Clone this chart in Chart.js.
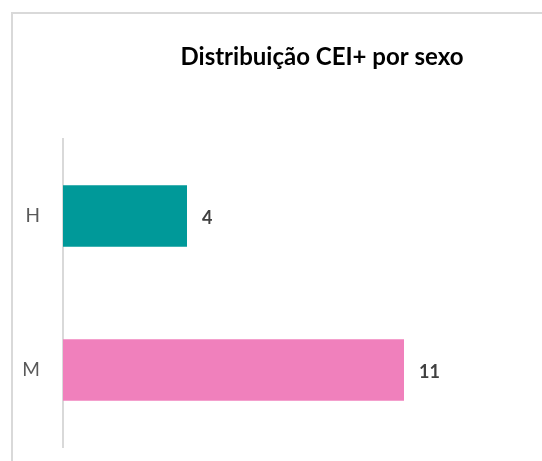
<!doctype html>
<html lang="pt">
<head>
  <meta charset="utf-8">
  <title>Distribuição CEI+ por sexo</title>
  <script src="https://cdn.jsdelivr.net/npm/chart.js@4.4.1/dist/chart.umd.min.js"></script>
  <style>
    html, body { margin: 0; padding: 0; background: #fff; overflow: hidden; }
    canvas { display: block; }
  </style>
</head>
<body>
  <canvas id="sexChart" width="542" height="461"></canvas>

  <script>
    // data
    var categories = ['H', 'M'];
    var counts = [4, 11];
    var barColors = ['#009999', '#F080BC'];
    var chartTitle = 'Distribuição CEI+ por sexo';

    var baseFont = 'Lato, "Open Sans", sans-serif';

    // light gray frame (top and left edges visible) plus the title
    var frameAndTitle = {
      id: 'frameAndTitle',
      beforeDraw: function (chart) {
        var ctx = chart.ctx;
        ctx.save();
        ctx.strokeStyle = '#d9d9d9';
        ctx.lineWidth = 2;
        ctx.beginPath();
        ctx.moveTo(12, chart.height);
        ctx.lineTo(12, 13);
        ctx.lineTo(chart.width, 13);
        ctx.stroke();

        ctx.fillStyle = '#000';
        ctx.font = 'bold 24px ' + baseFont;
        ctx.textAlign = 'center';
        ctx.textBaseline = 'middle';
        ctx.fillText(chartTitle, 322, 57);
        ctx.restore();
      }
    };

    // value labels to the right of each bar
    var valueLabels = {
      id: 'valueLabels',
      afterDatasetsDraw: function (chart) {
        var ctx = chart.ctx;
        var meta = chart.getDatasetMeta(0);
        ctx.save();
        ctx.fillStyle = '#404040';
        ctx.font = 'bold 18px ' + baseFont;
        ctx.textAlign = 'left';
        ctx.textBaseline = 'middle';
        meta.data.forEach(function (bar, i) {
          ctx.fillText(String(counts[i]), bar.x + 15, bar.y + 2);
        });
        ctx.restore();
      }
    };

    var ctx = document.getElementById('sexChart').getContext('2d');
    new Chart(ctx, {
      type: 'bar',
      data: {
        labels: categories,
        datasets: [{
          data: counts,
          backgroundColor: barColors,
          barPercentage: 0.8,
          categoryPercentage: 0.5
        }]
      },
      options: {
        indexAxis: 'y',
        responsive: false,
        animation: false,
        layout: { padding: { top: 139, bottom: 14, left: 0, right: 14 } },
        plugins: {
          legend: { display: false },
          title: { display: false },
          tooltip: { enabled: false }
        },
        scales: {
          x: {
            display: false,
            min: 0,
            max: 15,
            grid: { display: false, drawTicks: false },
            border: { display: false },
            ticks: { display: false }
          },
          y: {
            grid: { display: false, drawTicks: false },
            border: { display: true, color: '#d9d9d9', width: 2 },
            ticks: {
              color: '#595959',
              padding: 23,
              font: { family: baseFont, size: 19 }
            },
            afterFit: function (scale) {
              // fixed axis width; no extra label room above/below the plot
              scale.width = 63;
              scale.paddingTop = 0;
              scale.paddingBottom = 0;
            }
          }
        }
      },
      plugins: [frameAndTitle, valueLabels]
    });
  </script>
</body>
</html>
